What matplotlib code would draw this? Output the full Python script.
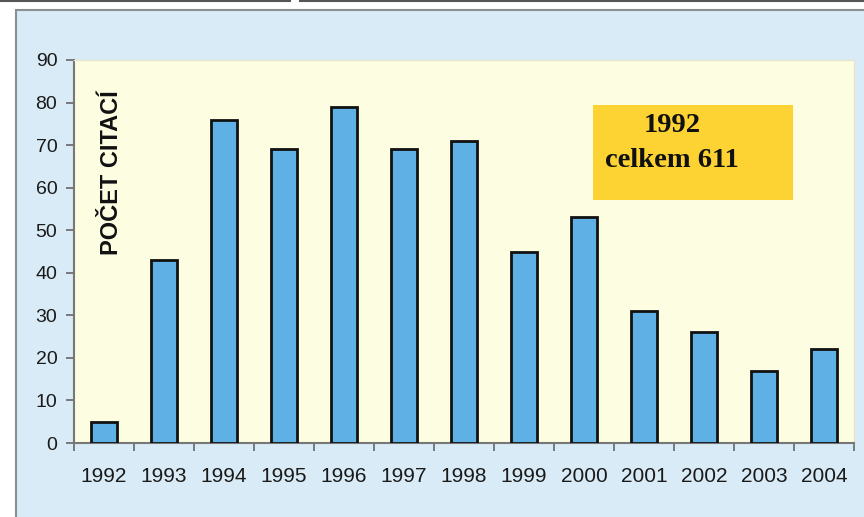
import matplotlib
matplotlib.use("Agg")
import matplotlib.pyplot as plt
from matplotlib.patches import Rectangle

years = ["1992", "1993", "1994", "1995", "1996", "1997", "1998",
         "1999", "2000", "2001", "2002", "2003", "2004"]
citations = [5, 43, 76, 69, 79, 69, 71, 45, 53, 31, 26, 17, 22]
y_ticks = [0, 10, 20, 30, 40, 50, 60, 70, 80, 90]
y_label = "POČET CITACÍ"
box_text = "1992\ncelkem 611"

W, H = 864, 517
fig = plt.figure(figsize=(W / 100, H / 100), dpi=100)
fig.patch.set_facecolor("white")

# background axes for the outer light-blue panel
bg = fig.add_axes([0, 0, 1, 1], zorder=0)
bg.set_xlim(0, W)
bg.set_ylim(H, 0)
bg.axis("off")
bg.add_patch(Rectangle((16, 10), W, H, facecolor="#d9ebf6", edgecolor="#8a8f94", linewidth=1.5))
bg.plot([0, 290], [1, 1], color="#555555", linewidth=1.5)
bg.plot([300, W], [1, 1], color="#555555", linewidth=1.5)

ax = fig.add_axes([74 / W, 1 - 443 / H, (854 - 74) / W, (443 - 60) / H], zorder=1)
ax.set_facecolor("#fdfde1")

x = list(range(len(years)))
ax.bar(x, citations, width=0.42, color="#5fb0e4", edgecolor="#111111", linewidth=2, zorder=3)

ax.set_xlim(-0.5, len(years) - 0.5)
ax.set_ylim(0, 90)
ax.set_yticks(y_ticks)
ax.set_yticklabels([str(v) for v in y_ticks], fontsize=14, family="Liberation Sans", color="#1a1a1a")

# x tick marks at category boundaries, labels at centres
ax.set_xticks([i - 0.5 for i in range(len(years) + 1)])
ax.set_xticklabels([""] * (len(years) + 1))
ax.set_xticks(x, minor=True)
ax.set_xticklabels(years, minor=True, fontsize=15, family="Liberation Sans", color="#1a1a1a")
ax.tick_params(axis="x", which="minor", length=0, pad=17)
ax.tick_params(axis="x", which="major", length=6, width=1.2, color="#666666", direction="out")
ax.tick_params(axis="y", length=6, width=1.2, color="#666666", direction="out", pad=6)

for s in ["top", "right"]:
    ax.spines[s].set_color("#e5e5d0")
    ax.spines[s].set_linewidth(1)
for s in ["left", "bottom"]:
    ax.spines[s].set_color("#777777")
    ax.spines[s].set_linewidth(1.5)

ax.text(0.13, 63.5, y_label, rotation=90, ha="center", va="center", fontsize=17,
        fontweight="bold", family="Liberation Sans", color="#111111")

# yellow annotation box (figure pixels 593-793, 105-200)
ax.add_patch(Rectangle((593 / W, 1 - 200 / H), 200 / W, 95 / H, transform=fig.transFigure,
                       facecolor="#fcd332", edgecolor="none", zorder=5, clip_on=False))
ax.text(672 / W, 1 - 143 / H, box_text, transform=fig.transFigure, ha="center", va="center",
        multialignment="center", fontsize=20.5, fontweight="bold", family="Liberation Serif",
        color="#111111", linespacing=1.55, zorder=6)

fig.savefig("out.png", dpi=100)
